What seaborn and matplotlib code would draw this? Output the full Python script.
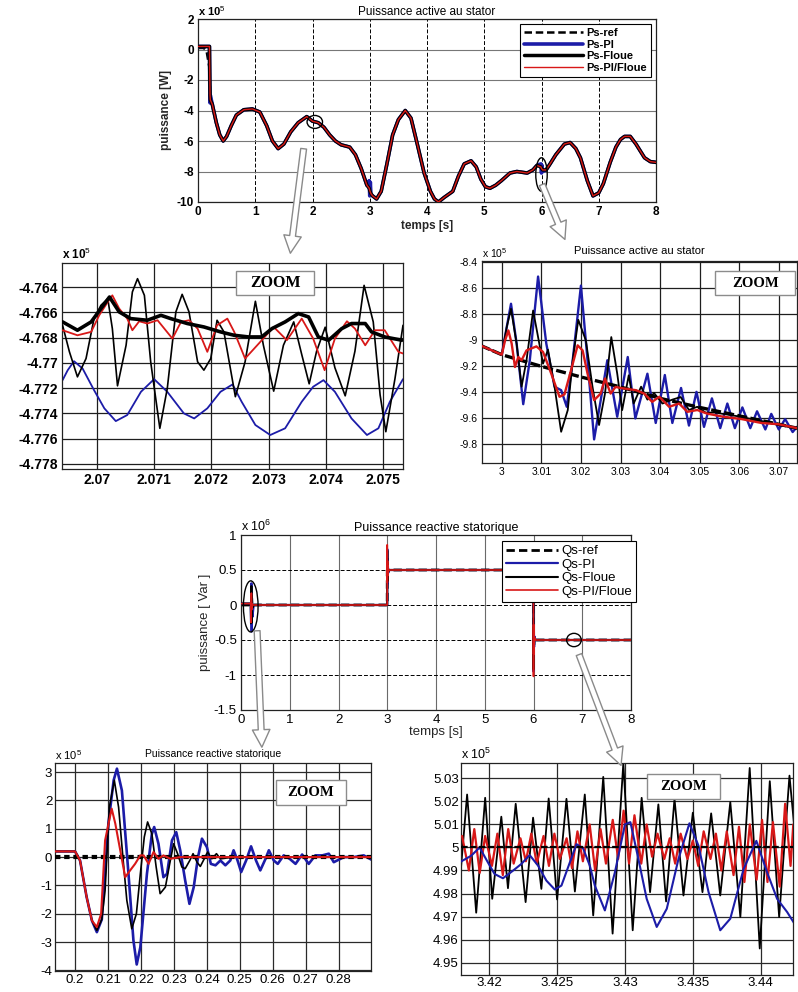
import matplotlib
matplotlib.use("Agg")
import matplotlib.pyplot as plt
import pandas as pd
import seaborn as sns
from matplotlib.patches import Ellipse, Rectangle, FancyArrowPatch
from matplotlib.ticker import MultipleLocator, FormatStrFormatter

# ---------------- data : active power, full run (x 1e5 W) ----------------
ps_t = [0, 0.1, 0.15, 0.2, 0.205, 0.21, 0.215, 0.25, 0.32, 0.38, 0.44, 0.5, 0.58, 0.67, 0.8, 0.95,
        1.08, 1.2, 1.3, 1.4, 1.5, 1.62, 1.75, 1.9, 2.0, 2.1, 2.2, 2.3, 2.4, 2.5, 2.65, 2.75, 2.85,
        2.95, 2.99, 3.0, 3.01, 3.02, 3.05, 3.12, 3.2, 3.3, 3.4, 3.5, 3.62, 3.72, 3.83, 3.95, 4.06,
        4.13, 4.2, 4.3, 4.45, 4.55, 4.65, 4.77, 4.86, 4.94, 5.02, 5.1, 5.2, 5.3, 5.45, 5.57, 5.75,
        5.85, 5.92, 5.99, 6.0, 6.01, 6.02, 6.08, 6.15, 6.25, 6.4, 6.5, 6.6, 6.68, 6.8, 6.9, 7.0,
        7.08, 7.2, 7.3, 7.38, 7.45, 7.55, 7.65, 7.8, 7.9, 8.0]
ps_ctrl = [0.2, 0.2, 0.2, 0.2, -1.5, -3.0, -3.3, -3.6, -4.8, -5.6, -6.0, -5.7, -5.0, -4.3, -3.95, -3.9,
           -4.1, -5.0, -6.0, -6.5, -6.2, -5.4, -4.8, -4.4, -4.7, -4.8, -5.1, -5.6, -6.0, -6.25, -6.4, -6.9, -7.8,
           -8.9, -9.1, -9.25, -9.35, -9.45, -9.6, -9.8, -9.3, -7.5, -5.6, -4.6, -4.0, -4.5, -6.2, -8.1, -9.3,
           -9.8, -10.0, -9.7, -9.3, -8.3, -7.5, -7.3, -7.7, -8.5, -9.0, -9.1, -8.9, -8.6, -8.1, -8.0, -8.1,
           -7.9, -7.6, -7.7, -7.8, -7.85, -7.9, -7.9, -7.5, -6.9, -6.2, -6.1, -6.5, -7.1, -8.6, -9.6, -9.4,
           -8.8, -7.4, -6.4, -5.9, -5.7, -5.7, -6.2, -7.1, -7.35, -7.4]
ps_ref = [0.1, 0.1, -0.1, -1.2, -1.9, -2.5, -3.0, -3.6, -4.8, -5.6, -6.0, -5.7, -5.0, -4.3, -3.95, -3.9,
          -4.1, -5.0, -6.0, -6.5, -6.2, -5.4, -4.8, -4.4, -4.7, -4.8, -5.1, -5.6, -6.0, -6.25, -6.4, -6.9, -7.8,
          -8.9, -9.1, -9.25, -9.35, -9.45, -9.6, -9.8, -9.3, -7.5, -5.6, -4.6, -4.0, -4.5, -6.2, -8.1, -9.3,
          -9.8, -10.0, -9.7, -9.3, -8.3, -7.5, -7.3, -7.7, -8.5, -9.0, -9.1, -8.9, -8.6, -8.1, -8.0, -8.1,
          -7.9, -7.6, -7.7, -7.8, -7.85, -7.9, -7.9, -7.5, -6.9, -6.2, -6.1, -6.5, -7.1, -8.6, -9.6, -9.4,
          -8.8, -7.4, -6.4, -5.9, -5.7, -5.7, -6.2, -7.1, -7.35, -7.4]
ps_pi = [0.2, 0.2, 0.2, 0.2, -2.0, -3.5, -3.0, -3.6, -4.8, -5.6, -6.0, -5.7, -5.0, -4.3, -3.95, -3.9,
         -4.1, -5.0, -6.0, -6.5, -6.2, -5.4, -4.8, -4.4, -4.7, -4.8, -5.1, -5.6, -6.0, -6.25, -6.4, -6.9, -7.8,
         -8.9, -8.6, -9.6, -8.7, -9.5, -9.6, -9.8, -9.3, -7.5, -5.6, -4.6, -4.0, -4.5, -6.2, -8.1, -9.3,
         -9.8, -10.0, -9.7, -9.3, -8.3, -7.5, -7.3, -7.7, -8.5, -9.0, -9.1, -8.9, -8.6, -8.1, -8.0, -8.1,
         -7.9, -7.6, -7.5, -8.1, -7.6, -8.0, -7.9, -7.5, -6.9, -6.2, -6.1, -6.5, -7.1, -8.6, -9.6, -9.4,
         -8.8, -7.4, -6.4, -5.9, -5.7, -5.7, -6.2, -7.1, -7.35, -7.4]

# ---------------- zoom around t = 2.07 s (x 1e5 W) ----------------
ml_ref_t = [2.06940, 2.06966, 2.06990, 2.07007, 2.07022, 2.07039, 2.07059, 2.07088, 2.07112, 2.07129,
            2.07158, 2.07187, 2.07216, 2.07240, 2.07265, 2.07288, 2.07306, 2.07329, 2.07352, 2.07370,
            2.07387, 2.07405, 2.07428, 2.07445, 2.07469, 2.07480, 2.07503, 2.07533]
ml_ref = [-4.76676, -4.76742, -4.76676, -4.76571, -4.76479, -4.76597, -4.76650, -4.76663, -4.76624, -4.76650,
          -4.76689, -4.76716, -4.76755, -4.76782, -4.76795, -4.76795, -4.76729, -4.76676, -4.76610, -4.76637,
          -4.76795, -4.76821, -4.76729, -4.76689, -4.76689, -4.76755, -4.76795, -4.76821]
ml_floue_t = [2.06940, 2.06952, 2.06966, 2.06981, 2.06995, 2.07007, 2.07019, 2.07027, 2.07036, 2.07051,
              2.07062, 2.07071, 2.07083, 2.07094, 2.07110, 2.07123, 2.07138, 2.07149, 2.07161, 2.07176,
              2.07187, 2.07199, 2.07210, 2.07222, 2.07242, 2.07259, 2.07277, 2.07291, 2.07309, 2.07326,
              2.07344, 2.07358, 2.07371, 2.07384, 2.07399, 2.07416, 2.07434, 2.07451, 2.07467, 2.07483,
              2.07495, 2.07505, 2.07521, 2.07535]
ml_floue = [-4.76703, -4.76913, -4.77111, -4.76966, -4.76650, -4.76545, -4.76492, -4.76729, -4.77182, -4.76861,
            -4.76439, -4.76334, -4.76466, -4.76992, -4.77518, -4.77203, -4.76597, -4.76458, -4.76597, -4.76992,
            -4.77058, -4.76966, -4.76663, -4.76755, -4.77268, -4.76992, -4.76513, -4.76861, -4.77224, -4.76861,
            -4.76676, -4.76934, -4.77166, -4.76908, -4.76718, -4.77039, -4.77261, -4.76908, -4.76387, -4.76676,
            -4.77255, -4.77545, -4.77124, -4.76703]
ml_pif_t = [2.06940, 2.06966, 2.06990, 2.07004, 2.07019, 2.07027, 2.07039, 2.07053, 2.07062, 2.07074,
            2.07088, 2.07106, 2.07132, 2.07147, 2.07161, 2.07176, 2.07193, 2.07210, 2.07228, 2.07240,
            2.07259, 2.07283, 2.07309, 2.07332, 2.07358, 2.07378, 2.07398, 2.07416, 2.07437, 2.07451,
            2.07469, 2.07486, 2.07503, 2.07527, 2.07535]
ml_pif = [-4.76742, -4.76782, -4.76755, -4.76624, -4.76518, -4.76466, -4.76571, -4.76650, -4.76742, -4.76671,
          -4.76689, -4.76663, -4.76808, -4.76676, -4.76663, -4.76729, -4.76913, -4.76703, -4.76650, -4.76755,
          -4.76966, -4.76847, -4.76716, -4.76821, -4.76650, -4.76808, -4.77058, -4.76808, -4.76671, -4.76729,
          -4.76861, -4.76742, -4.76742, -4.76913, -4.76926]
ml_pi_t = [2.06940, 2.06949, 2.06960, 2.06975, 2.06995, 2.07013, 2.07033, 2.07053, 2.07077, 2.07100,
           2.07123, 2.07152, 2.07170, 2.07193, 2.07216, 2.07237, 2.07253, 2.07277, 2.07303, 2.07329,
           2.07358, 2.07378, 2.07396, 2.07416, 2.07445, 2.07472, 2.07492, 2.07512, 2.07535]
ml_pi = [-4.77137, -4.77058, -4.76987, -4.77045, -4.77216, -4.77360, -4.77461, -4.77413, -4.77229, -4.77129,
         -4.77229, -4.77400, -4.77440, -4.77360, -4.77229, -4.77171, -4.77308, -4.77492, -4.77571, -4.77518,
         -4.77308, -4.77189, -4.77137, -4.77229, -4.77440, -4.77571, -4.77518, -4.77308, -4.77129]

# ---------------- zoom around t = 3.0 s (x 1e5 W) ----------------
mr_ref_t = [2.99458, 3.0, 3.01, 3.02, 3.03, 3.04, 3.05, 3.06, 3.07, 3.0746]
mr_ref = [-9.041, -9.113, -9.203, -9.285, -9.362, -9.45, -9.52, -9.585, -9.65, -9.68]
mr_pi_t = [2.99458, 3.0, 3.00125, 3.00233, 3.00375, 3.00542, 3.00708, 3.00917, 3.01125, 3.01333,
           3.015, 3.01642, 3.01792, 3.02, 3.02167, 3.02333, 3.025, 3.02667, 3.02917, 3.03183,
           3.03375, 3.0368, 3.0389, 3.0412, 3.0431, 3.0453, 3.0473, 3.0492, 3.0511, 3.0531,
           3.0552, 3.0570, 3.0589, 3.0608, 3.0628, 3.0645, 3.0666, 3.0681, 3.0700, 3.0716,
           3.0735, 3.0746]
mr_pi = [-9.041, -9.113, -8.90, -8.72, -9.028, -9.495, -9.156, -8.51, -9.028, -9.36,
         -9.387, -9.515, -9.156, -8.58, -9.156, -9.767, -9.464, -9.156, -9.592, -9.131,
         -9.605, -9.26, -9.64, -9.27, -9.64, -9.37, -9.66, -9.40, -9.67, -9.45,
         -9.68, -9.49, -9.68, -9.52, -9.68, -9.55, -9.69, -9.57, -9.69, -9.61,
         -9.71, -9.67]
mr_floue_t = [2.99458, 3.0, 3.00125, 3.00233, 3.00375, 3.005, 3.00625, 3.00792, 3.00917, 3.01042,
              3.01167, 3.01333, 3.015, 3.01667, 3.01792, 3.01933, 3.02125, 3.02292, 3.02458, 3.02608,
              3.02767, 3.02917, 3.03042, 3.03208, 3.03333, 3.0352, 3.0368, 3.0385, 3.0406, 3.0431,
              3.0452, 3.0473, 3.0494, 3.0515, 3.0539, 3.06, 3.07, 3.0746]
mr_floue = [-9.041, -9.113, -8.90, -8.759, -9.028, -9.36, -9.156, -8.772, -8.977, -9.182,
            -9.074, -9.36, -9.708, -9.541, -9.156, -8.844, -9.003, -9.36, -9.656, -9.413,
            -8.977, -9.259, -9.541, -9.272, -9.49, -9.36, -9.46, -9.41, -9.49, -9.46,
            -9.44, -9.54, -9.515, -9.56, -9.56, -9.59, -9.655, -9.685]
mr_pif_t = [2.99458, 3.0, 3.00083, 3.00167, 3.0025, 3.00333, 3.00417, 3.005, 3.00625, 3.00875,
            3.01042, 3.0125, 3.01458, 3.01583, 3.0175, 3.01917, 3.02042, 3.02167, 3.02333, 3.025,
            3.02608, 3.0275, 3.02875, 3.03042, 3.0339, 3.036, 3.038, 3.0398, 3.0423, 3.0448,
            3.0469, 3.0494, 3.0518, 3.0556, 3.0606, 3.0656, 3.07, 3.0746]
mr_pif = [-9.041, -9.113, -9.003, -8.926, -9.028, -9.208, -9.131, -9.156, -9.08, -9.049,
          -9.092, -9.259, -9.438, -9.42, -9.233, -9.041, -9.08, -9.259, -9.464, -9.413,
          -9.297, -9.413, -9.362, -9.372, -9.387, -9.413, -9.477, -9.438, -9.515, -9.49,
          -9.554, -9.54, -9.567, -9.59, -9.61, -9.64, -9.65, -9.68]

# ---------------- reactive power, full run (x 1e6 Var) ----------------
qs_t = [0, 0.2, 0.2066, 0.2127, 0.2187, 0.224, 0.2347, 0.26, 2.999, 3.0, 3.002, 3.005, 3.008,
        3.012, 3.02, 3.04, 5.999, 6.0, 6.002, 6.005, 6.008, 6.012, 6.02, 6.04, 8.0]
qs_ref = [0, 0, 0, 0, 0, 0, 0, 0, 0, 0.5, 0.5, 0.5, 0.5,
          0.5, 0.5, 0.5, 0.5, -0.5, -0.5, -0.5, -0.5, -0.5, -0.5, -0.5, -0.5]
qs_pi = [0.02, 0.02, -0.26, 0.31, -0.38, 0.10, -0.17, 0.0, 0.0, 0.80, 0.30, 0.66, 0.40,
         0.58, 0.46, 0.5, 0.5, -0.95, -0.30, -0.68, -0.38, -0.60, -0.45, -0.5, -0.5]
qs_floue = [0.02, 0.02, -0.26, 0.27, -0.25, 0.12, -0.04, 0.0, 0.0, 0.78, 0.34, 0.60, 0.44,
            0.54, 0.48, 0.5, 0.5, -0.92, -0.32, -0.66, -0.42, -0.57, -0.47, -0.5, -0.5]
qs_pif = [0.02, 0.02, -0.25, 0.17, -0.07, 0.02, 0.0, 0.0, 0.0, 0.86, 0.32, 0.63, 0.42,
          0.56, 0.47, 0.5, 0.5, -1.02, -0.28, -0.70, -0.40, -0.58, -0.46, -0.5, -0.5]

# ---------------- zoom around t = 0.2 s (x 1e5 Var) ----------------
bl_ref_t = [0.1939, 0.2899]
bl_ref = [0.0, 0.0]
bl_pi_t = [0.1939, 0.2, 0.2015, 0.2035, 0.2051, 0.2066, 0.2081, 0.2101, 0.2117, 0.2127, 0.2142, 0.2162,
           0.2177, 0.2187, 0.2198, 0.2218, 0.2233, 0.2240, 0.2253, 0.2268, 0.2279, 0.2294, 0.2307, 0.2319,
           0.2334, 0.2347, 0.2360, 0.2373, 0.2385, 0.2400, 0.2412, 0.2426, 0.2441, 0.2456, 0.2471, 0.2481,
           0.2493, 0.2504, 0.2519, 0.2534, 0.2549, 0.2562, 0.2578, 0.2588, 0.2603, 0.2615, 0.2633, 0.2651,
           0.2669, 0.2689, 0.2709, 0.2729, 0.2750, 0.2770, 0.2785, 0.2816, 0.2846, 0.2876, 0.2899]
bl_pi = [0.2, 0.2, -0.12, -1.41, -2.24, -2.65, -2.2, 1.18, 2.71, 3.12, 2.35, -0.59,
         -2.94, -3.79, -3.18, -0.59, 0.82, 1.06, 0.47, -0.71, -0.59, 0.59, 0.88, 0.24,
         -0.82, -1.65, -1.06, 0.0, 0.65, 0.35, -0.24, -0.29, -0.12, -0.29, -0.12, 0.24,
         -0.12, -0.53, -0.12, 0.38, -0.12, -0.47, -0.06, 0.24, -0.12, -0.24, 0.06, -0.06,
         -0.24, 0.09, -0.24, 0.06, 0.06, 0.12, -0.18, 0.0, 0.0, 0.06, -0.09]
bl_floue_t = [0.1939, 0.2, 0.2015, 0.2035, 0.2051, 0.2066, 0.2081, 0.2091, 0.2104, 0.2119, 0.2132, 0.2145,
              0.2157, 0.2172, 0.2186, 0.2198, 0.2210, 0.2220, 0.2233, 0.2246, 0.2258, 0.2274, 0.2287, 0.2299,
              0.2311, 0.2324, 0.2334, 0.2348, 0.2358, 0.2370, 0.2380, 0.2392, 0.2402, 0.2415, 0.2429, 0.2441,
              0.2481, 0.2899]
bl_floue = [0.2, 0.2, -0.12, -1.41, -2.24, -2.59, -2.2, -1.18, 1.76, 2.71, 1.76, 0.0,
            -1.53, -2.53, -2.0, -0.59, 0.71, 1.24, 0.82, -0.35, -1.29, -1.06, -0.24, 0.47,
            0.12, -0.35, -0.41, -0.12, 0.12, -0.18, -0.33, -0.06, 0.18, -0.06, 0.12, -0.06,
            0.0, 0.0]
bl_pif_t = [0.1939, 0.2, 0.2015, 0.2035, 0.2051, 0.2066, 0.2079, 0.2091, 0.2111, 0.2122, 0.2137, 0.2152,
            0.2167, 0.2182, 0.2198, 0.2208, 0.2223, 0.2238, 0.2253, 0.2268, 0.2289, 0.2319, 0.2899]
bl_pif = [0.2, 0.2, -0.12, -1.41, -2.24, -2.47, -2.0, 0.59, 1.71, 1.18, 0.24, -0.71,
          -0.47, -0.24, 0.06, 0.06, -0.24, 0.18, -0.06, 0.06, -0.06, 0.0, 0.0]

# ---------------- zoom around 5e5 Var step (x 1e5 Var) ----------------
br_ref_t = [3.4179, 3.4424]
br_ref = [5.0, 5.0]
br_floue_t = [3.41781, 3.41837, 3.41904, 3.41970, 3.42022, 3.42089, 3.42138, 3.42195, 3.42268, 3.42323,
              3.42384, 3.42438, 3.42500, 3.42569, 3.42631, 3.42704, 3.42766, 3.42840, 3.42909, 3.42988,
              3.43057, 3.43123, 3.43185, 3.43246, 3.43303, 3.43365, 3.43431, 3.43500, 3.43571, 3.43635,
              3.43702, 3.43776, 3.43850, 3.43919, 3.43993, 3.44067, 3.44136, 3.44212, 3.44249]
br_floue = [4.98345, 5.02302, 4.97165, 5.02158, 4.97770, 5.01338, 4.98230, 5.01899, 4.97626, 5.01295,
            4.98201, 5.02129, 4.97741, 5.02115, 4.98086, 5.02302, 4.97050, 5.03065, 4.96259, 5.03669,
            4.96403, 5.02158, 4.98058, 5.01871, 4.97655, 5.02115, 4.97914, 5.01511, 4.98058, 5.01482,
            4.97914, 5.01971, 4.96978, 5.03453, 4.95612, 5.02878, 4.96978, 5.03122, 5.00791]
br_pi_t = [3.41781, 3.41867, 3.41929, 3.41990, 3.42039, 3.42101, 3.42175, 3.42236, 3.42298, 3.42360,
           3.42421, 3.42483, 3.42532, 3.42594, 3.42643, 3.42692, 3.42741, 3.42778, 3.42852, 3.42926,
           3.43000, 3.43040, 3.43099, 3.43160, 3.43234, 3.43308, 3.43394, 3.43475, 3.43542, 3.43616,
           3.43702, 3.43776, 3.43874, 3.43968, 3.44047, 3.44121, 3.44195, 3.44244]
br_pi = [4.99353, 4.99640, 5.00000, 4.99353, 4.98849, 4.98662, 4.98993, 4.99281, 4.99669, 4.99209,
         4.98561, 4.98173, 4.98345, 4.99353, 5.00144, 4.99957, 4.99209, 4.98345, 4.97266, 4.98921,
         5.01007, 5.01100, 4.99496, 4.97770, 4.96547, 4.97338, 4.99496, 5.01050, 5.00072, 4.98058,
         4.96403, 4.96906, 4.99065, 5.00288, 4.98921, 4.97770, 4.97194, 4.96734]
br_pif_t = [3.4180, 3.4185, 3.4189, 3.4193, 3.4197, 3.4202, 3.4206, 3.4210, 3.4214, 3.4218,
            3.4223, 3.4227, 3.4231, 3.4235, 3.4240, 3.4244, 3.4248, 3.4252, 3.4257, 3.4261,
            3.4265, 3.4269, 3.4274, 3.4278, 3.4282, 3.4286, 3.4291, 3.4295, 3.4299, 3.4303,
            3.4307, 3.4312, 3.4316, 3.4320, 3.4324, 3.4329, 3.4333, 3.4337, 3.4341, 3.4346,
            3.4350, 3.4354, 3.4358, 3.4363, 3.4367, 3.4371, 3.4375, 3.4380, 3.4384, 3.4388,
            3.4392, 3.4397, 3.4401, 3.4405, 3.4409, 3.4414, 3.4418, 3.4422, 3.4424]
br_pif = [5.005, 4.990, 5.008, 4.989, 5.005, 4.992, 5.006, 4.988, 5.008, 4.993,
          5.004, 4.994, 5.006, 4.993, 5.005, 4.992, 5.006, 4.995, 5.004, 4.991,
          5.007, 4.994, 5.010, 4.990, 5.008, 4.993, 5.012, 4.995, 5.016, 4.993,
          5.014, 4.993, 5.010, 4.996, 5.006, 4.995, 5.004, 4.993, 5.006, 4.995,
          5.003, 4.992, 5.007, 4.995, 5.006, 4.990, 5.007, 4.988, 5.009, 4.985,
          5.010, 4.986, 5.012, 4.985, 5.011, 4.983, 5.019, 4.992, 5.010]

ps_labels = ["Ps-ref", "Ps-PI", "Ps-Floue", "Ps-PI/Floue"]
qs_labels = ["Qs-ref", "Qs-PI", "Qs-Floue", "Qs-PI/Floue"]

# ---------------- style ----------------
sns.set_theme(style="white")
plt.rcParams["font.family"] = ["Liberation Sans", "DejaVu Sans"]
plt.rcParams["mathtext.fontset"] = "custom"
plt.rcParams["mathtext.rm"] = "Liberation Sans"
plt.rcParams["mathtext.bf"] = "Liberation Sans:bold"
plt.rcParams["axes.edgecolor"] = "black"
plt.rcParams["axes.linewidth"] = 0.8
plt.rcParams["text.color"] = "black"
plt.rcParams["xtick.color"] = "black"
plt.rcParams["ytick.color"] = "black"
plt.rcParams["lines.solid_joinstyle"] = "round"

BLUE = "#1c1ca8"
RED = "#d81818"
BLACK = "#000000"

W, H = 798, 992
fig = plt.figure(figsize=(W / 100, H / 100), dpi=100)


def rect(l, t, r, b):
    return [l / W, 1 - b / H, (r - l) / W, (b - t) / H]


def line(ax, t, v, color, lw, ls="-", label=None, z=2):
    df = pd.DataFrame({"t": t, "v": v})
    kw = dict(data=df, x="t", y="v", ax=ax, color=color, linewidth=lw, linestyle=ls,
              estimator=None, sort=False, zorder=z)
    if label is not None:
        kw["label"] = label
    sns.lineplot(**kw)


def finish(ax, fs, bold=False, xgrid=None, ygrid=None, pad=3):
    ax.set_xlabel("")
    ax.set_ylabel("")
    ax.tick_params(direction="in", length=3, labelsize=fs, pad=pad, width=0.6)
    ax.xaxis.set_major_formatter(FormatStrFormatter("%g"))
    ax.yaxis.set_major_formatter(FormatStrFormatter("%g"))
    if bold:
        for lab in ax.get_xticklabels() + ax.get_yticklabels():
            lab.set_fontweight("bold")
    ax.set_axisbelow(True)
    if xgrid:
        ax.xaxis.grid(True, **xgrid)
    if ygrid:
        ax.yaxis.grid(True, **ygrid)
    for s in ax.spines.values():
        s.set_color("#222222")
        s.set_linewidth(0.9)
    leg = ax.get_legend()
    if leg is not None:
        leg.remove()


def zoom_box(ax, x0, x1, y0, y1, fs=10.5):
    ax.add_patch(Rectangle((x0, y0), x1 - x0, y1 - y0, transform=ax.transAxes, fill=True,
                           fc="white", ec="#8c8c8c", lw=1.0, zorder=20, clip_on=False))
    ax.text((x0 + x1) / 2, (y0 + y1) / 2, "ZOOM", transform=ax.transAxes, ha="center", va="center",
            family=["Liberation Serif", "DejaVu Serif"], weight="bold", fontsize=fs, zorder=21)


def exp_label(ax, txt, fs, bold=False, dy=0.005):
    ax.text(0.0, 1 + dy, txt, transform=ax.transAxes, ha="left", va="bottom", fontsize=fs,
            weight="bold" if bold else "normal")


solid_grid = dict(color="#1e1e1e", linestyle="-", linewidth=0.9)

# ================= top : active power =================
ax1 = fig.add_axes(rect(198, 19, 656, 202))
line(ax1, ps_t, ps_ref, BLACK, 1.8, (0, (3, 1.5)), ps_labels[0], z=2)
line(ax1, ps_t, ps_pi, BLUE, 2.6, "-", ps_labels[1], z=3)
line(ax1, ps_t, ps_ctrl, BLACK, 2.5, "-", ps_labels[2], z=4)
line(ax1, ps_t, ps_ctrl, RED, 1.0, "-", ps_labels[3], z=5)
ax1.set_xlim(0, 8)
ax1.set_ylim(-10, 2)
ax1.xaxis.set_major_locator(MultipleLocator(1))
ax1.yaxis.set_major_locator(MultipleLocator(2))
finish(ax1, 8.5, bold=True,
       xgrid=dict(color="black", linestyle=(0, (4, 2)), linewidth=0.7),
       ygrid=dict(color="#777777", linestyle="-", linewidth=0.8))
ax1.set_title("Puissance active au stator", fontsize=8.5, pad=3)
ax1.set_xlabel("temps [s]", fontsize=8.5, weight="bold", labelpad=1)
ax1.set_ylabel("puissance [W]", fontsize=8.5, weight="bold", labelpad=3)
exp_label(ax1, r"x 10$^5$", 8, bold=True)
h, l = ax1.get_legend_handles_labels()
hd = dict(zip(l, h))
ax1.legend([hd[k] for k in ps_labels], ps_labels, loc="upper right",
           prop=dict(weight="bold", size=8), frameon=True, fancybox=False, edgecolor="black",
           framealpha=1, handlelength=5.3, labelspacing=0.15, borderpad=0.35, handletextpad=0.3,
           borderaxespad=0.45).get_frame().set_linewidth(0.8)
ax1.add_patch(Ellipse((2.04, -4.75), 0.27, 0.85, fill=False, ec="black", lw=1.0, zorder=10))
ax1.add_patch(Ellipse((6.0, -8.2), 0.2, 2.2, fill=False, ec="black", lw=1.0, zorder=10))

# ================= middle left : zoom near 2.07 s =================
ax2 = fig.add_axes(rect(62, 263, 403, 469))
line(ax2, ml_pi_t, ml_pi, BLUE, 1.3, z=2)
line(ax2, ml_floue_t, ml_floue, BLACK, 1.2, z=3)
line(ax2, ml_pif_t, ml_pif, RED, 1.3, z=4)
line(ax2, ml_ref_t, ml_ref, BLACK, 2.6, z=5)
ax2.set_xlim(2.06939, 2.07535)
ax2.set_ylim(-4.7784, -4.7621)
ax2.xaxis.set_major_locator(MultipleLocator(0.001))
ax2.yaxis.set_major_locator(MultipleLocator(0.002))
finish(ax2, 10, bold=True, xgrid=solid_grid, ygrid=solid_grid)
exp_label(ax2, r"x 10$^5$", 8.5, bold=True)
zoom_box(ax2, 0.51, 0.74, 0.845, 0.96, fs=11.5)

# ================= middle right : zoom near 3.0 s =================
ax3 = fig.add_axes(rect(482, 261, 797, 463))
line(ax3, mr_pi_t, mr_pi, BLUE, 1.7, z=2)
line(ax3, mr_floue_t, mr_floue, BLACK, 1.3, z=3)
line(ax3, mr_ref_t, mr_ref, BLACK, 2.4, (0, (3, 1)), z=4)
line(ax3, mr_pif_t, mr_pif, RED, 1.7, z=5)
ax3.set_xlim(2.995, 3.0746)
ax3.set_ylim(-9.949, -8.39)
ax3.xaxis.set_major_locator(MultipleLocator(0.01))
ax3.yaxis.set_major_locator(MultipleLocator(0.2))
finish(ax3, 7.5, xgrid=solid_grid, ygrid=solid_grid)
ax3.set_title("Puissance active au stator", fontsize=8, pad=5)
exp_label(ax3, r"x 10$^5$", 7.5)
zoom_box(ax3, 0.74, 0.995, 0.83, 0.95)

# ================= bottom center : reactive power =================
ax4 = fig.add_axes(rect(241, 535, 631, 710))
line(ax4, qs_t, qs_ref, BLACK, 2.0, (0, (3, 1.5)), qs_labels[0], z=2)
line(ax4, qs_t, qs_pi, BLUE, 1.6, "-", qs_labels[1], z=3)
line(ax4, qs_t, qs_floue, BLACK, 1.5, "-", qs_labels[2], z=4)
line(ax4, qs_t, qs_pif, RED, 1.2, "-", qs_labels[3], z=5)
ax4.set_xlim(0, 8)
ax4.set_ylim(-1.5, 1)
ax4.xaxis.set_major_locator(MultipleLocator(1))
ax4.yaxis.set_major_locator(MultipleLocator(0.5))
finish(ax4, 9.5,
       xgrid=dict(color="#6a6a6a", linestyle="-", linewidth=0.8),
       ygrid=dict(color="black", linestyle=(0, (4, 2)), linewidth=0.7))
ax4.set_title("Puissance reactive statorique", fontsize=9, pad=3)
ax4.set_xlabel("temps [s]", fontsize=9.5, labelpad=0)
ax4.set_ylabel("puissance [ Var ]", fontsize=9.5, labelpad=2)
exp_label(ax4, r"x 10$^6$", 9)
h, l = ax4.get_legend_handles_labels()
hd = dict(zip(l, h))
ax4.legend([hd[k] for k in qs_labels], qs_labels, loc="upper right", bbox_to_anchor=(1.012, 0.965),
           prop=dict(size=9.5), frameon=True, fancybox=False, edgecolor="black", framealpha=1,
           handlelength=3.9, labelspacing=0.1, borderpad=0.3, handletextpad=0.25,
           borderaxespad=0.0).get_frame().set_linewidth(0.8)
ax4.add_patch(Ellipse((0.2, -0.02), 0.3, 0.73, fill=False, ec="black", lw=1.0, zorder=10))
ax4.add_patch(Ellipse((6.83, -0.5), 0.3, 0.19, fill=False, ec="black", lw=1.0, zorder=10))

# ================= bottom left : zoom near 0.2 s =================
ax5 = fig.add_axes(rect(55, 763, 371, 971))
line(ax5, bl_pi_t, bl_pi, BLUE, 1.9, z=2)
line(ax5, bl_floue_t, bl_floue, BLACK, 1.2, z=3)
line(ax5, bl_ref_t, bl_ref, BLACK, 3.0, (0, (1.3, 0.9)), z=4)
line(ax5, bl_pif_t, bl_pif, RED, 1.5, z=5)
ax5.set_xlim(0.1939, 0.2898)
ax5.set_ylim(-4.02, 3.32)
ax5.xaxis.set_major_locator(MultipleLocator(0.01))
ax5.yaxis.set_major_locator(MultipleLocator(1))
finish(ax5, 9.5, xgrid=dict(color="#2a2a2a", linestyle="-", linewidth=0.9),
       ygrid=dict(color="#2a2a2a", linestyle="-", linewidth=0.9), pad=2)
ax5.set_title("Puissance reactive statorique", fontsize=7.5, pad=4)
exp_label(ax5, r"x 10$^5$", 8)
zoom_box(ax5, 0.70, 0.92, 0.80, 0.92)

# ================= bottom right : zoom on the 5e5 Var plateau =================
ax6 = fig.add_axes(rect(461, 763, 793, 975))
line(ax6, br_floue_t, br_floue, BLACK, 1.3, z=2)
line(ax6, br_pif_t, br_pif, RED, 1.6, z=3)
line(ax6, br_pi_t, br_pi, BLUE, 1.5, z=4)
line(ax6, br_ref_t, br_ref, BLACK, 1.6, (0, (3, 1)), z=5)
ax6.set_xlim(3.41792, 3.44238)
ax6.set_ylim(4.9446, 5.0367)
ax6.xaxis.set_major_locator(MultipleLocator(0.005))
ax6.yaxis.set_major_locator(MultipleLocator(0.01))
finish(ax6, 9.5, xgrid=dict(color="#2a2a2a", linestyle="-", linewidth=0.9),
       ygrid=dict(color="#2a2a2a", linestyle="-", linewidth=0.9), pad=1.5)
exp_label(ax6, r"x 10$^5$", 9)
zoom_box(ax6, 0.56, 0.78, 0.83, 0.95)

# ================= hollow pointer arrows between panels =================
def pointer(x0, y0, x1, y1):
    p = FancyArrowPatch((x0 / W, 1 - y0 / H), (x1 / W, 1 - y1 / H), transform=fig.transFigure,
                        arrowstyle="simple,head_length=0.9,head_width=0.9,tail_width=0.3",
                        mutation_scale=14, fc="white", ec="#8a8a8a", lw=1.0, zorder=30)
    fig.add_artist(p)


pointer(304, 146, 290, 256)
pointer(541, 182, 566, 242)
pointer(257, 628, 262, 750)
pointer(578, 652, 622, 768)

fig.savefig("out.png", dpi=100)
